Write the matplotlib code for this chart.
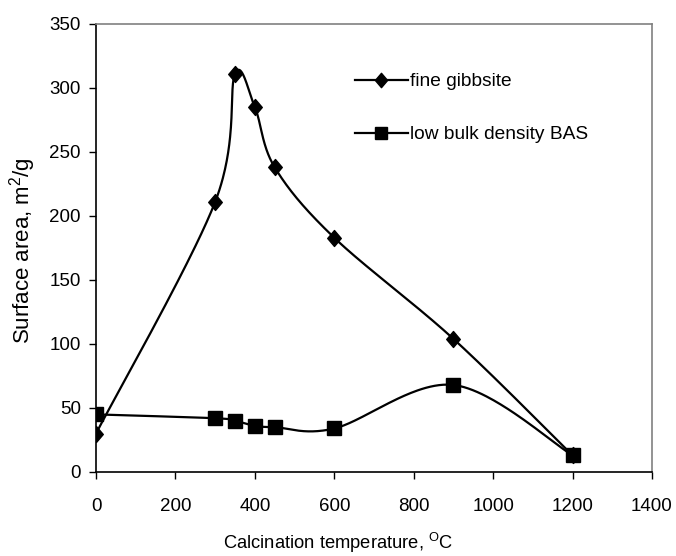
import numpy as np
import matplotlib.pyplot as plt
from matplotlib.path import Path

plt.rcParams['font.family'] = ['Liberation Sans', 'DejaVu Sans']
plt.rcParams['mathtext.fontset'] = 'custom'
plt.rcParams['mathtext.rm'] = 'Liberation Sans'
plt.rcParams['mathtext.it'] = 'Liberation Sans:italic'

# calcination temperature (C) and BET surface area (m2/g)
temp = [0, 300, 350, 400, 450, 600, 900, 1200]
fine_gibbsite = [30, 211, 311, 285, 238, 183, 104, 13]
low_bulk_bas = [45, 42, 40, 36, 35, 34, 68, 13]

x_ticks = [0, 200, 400, 600, 800, 1000, 1200, 1400]
y_ticks = [0, 50, 100, 150, 200, 250, 300, 350]

TICK_FS = 13.5
LEGEND_FS = 13.8

fig = plt.figure(figsize=(6.76, 5.56), dpi=100)
ax = fig.add_axes([96 / 676, 84 / 556, 556 / 676, 448 / 556])
ax.set_xlim(0, 1400)
ax.set_ylim(0, 350)


def smooth_curve(ax, xs, ys, n=60):
    # spreadsheet-style smoothing: cubic Bezier segments through every point,
    # control points from neighbour chords (tension 1/6) in screen space
    pts = ax.transData.transform(np.column_stack([xs, ys]))
    out = [pts[0]]
    m = len(pts)
    for i in range(m - 1):
        p0 = pts[i - 1] if i > 0 else pts[i]
        p1, p2 = pts[i], pts[i + 1]
        p3 = pts[i + 2] if i + 2 < m else pts[i + 1]
        c1 = p1 + (p2 - p0) / 6.0
        c2 = p2 - (p3 - p1) / 6.0
        t = np.linspace(0, 1, n)[1:, None]
        seg = ((1 - t) ** 3) * p1 + 3 * ((1 - t) ** 2) * t * c1 \
            + 3 * (1 - t) * t ** 2 * c2 + t ** 3 * p2
        out.extend(seg)
    out = ax.transData.inverted().transform(np.array(out))
    return out[:, 0], out[:, 1]


diamond = Path([(0, 1), (0.85, 0), (0, -1), (-0.85, 0), (0, 1)],
               [Path.MOVETO, Path.LINETO, Path.LINETO, Path.LINETO, Path.CLOSEPOLY])

for xs, ys, marker, ms, label in [
        (temp, fine_gibbsite, diamond, 11.5, 'fine gibbsite'),
        (temp, low_bulk_bas, 's', 10, 'low bulk density BAS')]:
    cx, cy = smooth_curve(ax, xs, ys)
    ax.plot(cx, cy, color='black', lw=1.6, zorder=3)
    ax.plot(xs, ys, linestyle='none', marker=marker, ms=ms, color='black', zorder=4)
    # legend proxy combining line and marker
    ax.plot([], [], color='black', lw=1.6, marker=marker, ms=ms * 0.9, label=label)

ax.set_xticks(x_ticks)
ax.set_yticks(y_ticks)
ax.tick_params(axis='both', direction='out', length=5, width=1, color='black',
               labelsize=TICK_FS)
ax.tick_params(axis='x', pad=14)
ax.tick_params(axis='y', pad=6)

for side in ['left', 'bottom']:
    ax.spines[side].set_color('black')
    ax.spines[side].set_linewidth(1.2)
for side in ['top', 'right']:
    ax.spines[side].set_color('#808080')
    ax.spines[side].set_linewidth(1.2)

ax.legend(loc='upper left', bbox_to_anchor=((355 - 96) / 556, (472 - 73) / 448),
          frameon=False, fontsize=LEGEND_FS,
          handlelength=2.75, handletextpad=0.12,
          labelspacing=1.85, borderpad=0, borderaxespad=0)

fig.text(338 / 676, 1 - 549 / 556, r'Calcination temperature, $^{\mathrm{O}}$C',
         ha='center', va='baseline', fontsize=13.2)
fig.text(23 / 676, 1 - 251 / 556, r'Surface area, m$^{2}$/g',
         ha='center', va='center', rotation=90, fontsize=16)

fig.savefig('out.png', dpi=100)
